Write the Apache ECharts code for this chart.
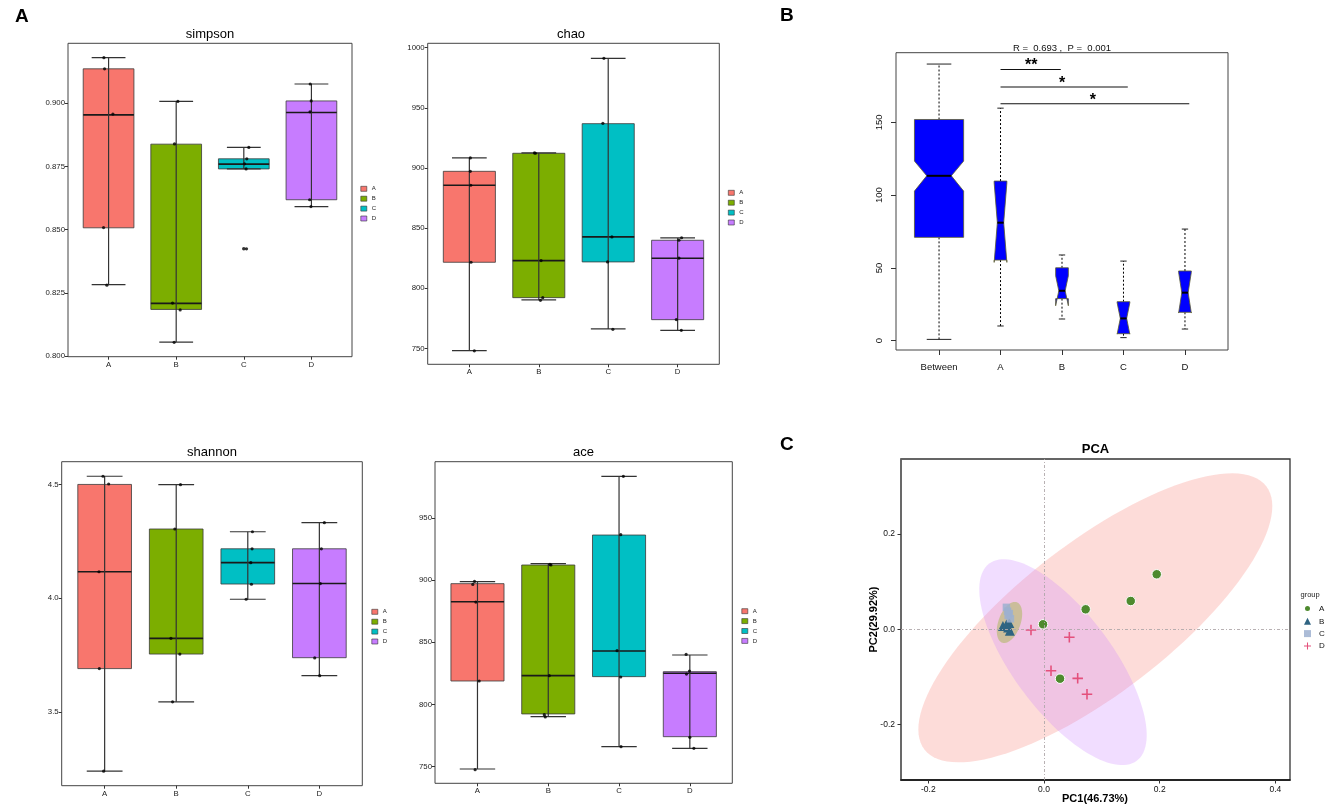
<!DOCTYPE html>
<html><head><meta charset="utf-8">
<script src="https://cdn.jsdelivr.net/npm/echarts@6/dist/echarts.min.js"></script>
<style>html,body{margin:0;padding:0;background:#fff}#c{width:1325px;height:809px}</style>
</head><body><div id="c"></div>
<script>
// ---------------- DATA ----------------
const groups = ['A', 'B', 'C', 'D'];
const groupColors = ['#F8766D', '#7CAE00', '#00BFC4', '#C77CFF'];

// box stats per group: [lowerWhisker, Q1, median, Q3, upperWhisker]
const simpsonBox = [
  [0.8282, 0.8507, 0.8954, 0.9136, 0.9180],
  [0.8055, 0.8184, 0.8208, 0.8838, 0.9007],
  [0.8740, 0.8740, 0.8759, 0.8780, 0.8825],
  [0.8591, 0.8618, 0.8963, 0.9009, 0.9076]
];
// jittered samples: [groupIndex, jitter, value]
const simpsonPoints = [
  [0, -0.069, 0.9180], [0, -0.059, 0.9136], [0, 0.064, 0.8957], [0, -0.074, 0.8508], [0, -0.025, 0.8280],
  [1, 0.025, 0.9007], [1, -0.025, 0.8839], [1, -0.054, 0.8209], [1, 0.059, 0.8182], [1, -0.030, 0.8054],
  [2, 0.074, 0.8825], [2, 0.044, 0.8780], [2, 0.010, 0.8760], [2, 0.034, 0.8740], [2, 0.040, 0.8424],
  [3, -0.018, 0.9076], [3, -0.003, 0.9009], [3, -0.020, 0.8966], [3, -0.026, 0.8618], [3, -0.007, 0.8591]
];
const simpsonOutliers = [[2, 0.8424]];
const simpsonTicks = [0.800, 0.825, 0.850, 0.875, 0.900];

const chaoBox = [
  [748.2, 821.6, 885.6, 897.2, 908.3],
  [790.3, 792.2, 823.0, 912.2, 912.5],
  [766.2, 821.9, 842.7, 936.8, 991.1],
  [765.0, 773.9, 824.9, 839.9, 841.8]
];
const chaoPoints = [
  [0, 0.014, 908.3], [0, 0.014, 897.2], [0, 0.020, 885.6], [0, 0.024, 821.6], [0, 0.072, 748.0],
  [1, -0.062, 912.5], [1, -0.048, 912.2], [1, 0.033, 823.0], [1, 0.057, 792.2], [1, 0.024, 790.0],
  [2, -0.062, 991.1], [2, -0.077, 937.1], [2, 0.053, 842.7], [2, -0.010, 821.9], [2, 0.067, 765.9],
  [3, 0.057, 842.0], [3, 0.019, 840.0], [3, 0.019, 825.0], [3, -0.019, 774.0], [3, 0.053, 765.0]
];
const chaoOutliers = [];
const chaoTicks = [750, 800, 850, 900, 950, 1000];

const shannonBox = [
  [3.240, 3.691, 4.117, 4.501, 4.537],
  [3.545, 3.755, 3.824, 4.305, 4.500],
  [3.996, 4.063, 4.157, 4.218, 4.293],
  [3.660, 3.739, 4.065, 4.218, 4.333]
];
const shannonPoints = [
  [0, -0.023, 4.537], [0, 0.056, 4.503], [0, -0.079, 4.117], [0, -0.074, 3.691], [0, -0.014, 3.240],
  [1, 0.060, 4.500], [1, -0.019, 4.305], [1, -0.074, 3.824], [1, 0.051, 3.755], [1, -0.051, 3.545],
  [2, 0.065, 4.293], [2, 0.060, 4.218], [2, 0.042, 4.157], [2, 0.051, 4.062], [2, -0.023, 3.996],
  [3, 0.070, 4.333], [3, 0.028, 4.218], [3, 0.014, 4.065], [3, -0.065, 3.738], [3, 0.005, 3.660]
];
const shannonOutliers = [];
const shannonTicks = [3.5, 4.0, 4.5];

const aceBox = [
  [748.1, 818.9, 882.7, 897.2, 898.8],
  [790.2, 792.4, 823.2, 912.2, 913.3],
  [766.1, 822.4, 843.0, 936.3, 983.5],
  [764.7, 774.1, 825.1, 826.4, 839.8]
];
const acePoints = [
  [0, -0.042, 899.0], [0, -0.066, 896.6], [0, -0.023, 882.4], [0, 0.024, 818.9], [0, -0.033, 747.6],
  [1, 0.024, 912.7], [1, 0.038, 912.2], [1, 0.014, 823.2], [1, -0.056, 791.8], [1, -0.042, 790.0],
  [2, 0.061, 983.5], [2, 0.024, 936.6], [2, -0.028, 843.3], [2, 0.024, 822.1], [2, 0.028, 766.1],
  [3, -0.052, 840.3], [3, -0.005, 826.9], [3, -0.047, 824.5], [3, 0.000, 773.6], [3, 0.057, 764.7]
];
const aceOutliers = [];
const aceTicks = [750, 800, 850, 900, 950];

// ANOSIM rank distances
const anosimGroups = ['Between', 'A', 'B', 'C', 'D'];
const anosimN = [150, 10, 10, 10, 10];
// [lowerWhisker, Q1, notchLow, median, notchHigh, Q3, upperWhisker]
const anosimStats = [
  [0.9, 71.0, 102.8, 113.3, 123.4, 152.0, 190.1],
  [10.1, 55.4, 53.8, 81.1, 108.4, 109.7, 159.8],
  [14.9, 28.9, 24.0, 34.3, 44.6, 50.1, 58.9],
  [2.1, 4.8, 4.5, 15.3, 26.1, 26.8, 54.7],
  [8.0, 19.5, 19.0, 33.0, 47.0, 47.9, 76.7]
];
const anosimTicks = [0, 50, 100, 150];
const anosimTitle = 'R =  0.693 ,  P =  0.001';
// significance brackets: [fromGroup, toGroup, height]
const sigBars = [[2.00, 2.98, 186.4], [2.00, 4.07, 174.3], [2.00, 5.07, 162.8]];
const sigLabels = ['**', '*', '*'];

// PCA
const pcaA = [[0.1948, 0.1154], [0.1499, 0.0594], [0.0720, 0.0419], [-0.0017, 0.0105], [0.0277, -0.1036]];
const pcaB = [[-0.071, 0.007], [-0.059, -0.003], [-0.060, 0.013], [-0.065, 0.010], [-0.062, 0.004]];
const pcaC = [[-0.065, 0.046], [-0.063, 0.038], [-0.062, 0.029], [-0.058, 0.022], [-0.060, 0.033]];
const pcaD = [[-0.0225, -0.0015], [0.0438, -0.0168], [0.0121, -0.0868], [0.0582, -0.1029], [0.0743, -0.1364]];
// confidence ellipses: [centerX, centerY, axis1X, axis1Y, axis2X, axis2Y]
const pcaEllipses = [
  [0.0887, 0.0241, 0.2954, 0.2761, -0.0795, 0.1253],
  [0.0328, -0.0690, 0.1275, -0.2068, 0.0685, 0.0622],
  [-0.0597, 0.0143, 0.0127, 0.0424, -0.0179, 0.0079]
];
const pcaEllipseGroups = [0, 3, 1];
const pcaXTicks = [-0.2, 0.0, 0.2, 0.4];
const pcaYTicks = [-0.2, 0.0, 0.2];
const pcaPointColors = ['#4E8A2E', '#2F6482', '#9DB0D0', '#E4507C'];

// ---------------- LAYOUT / STYLE ----------------
const FONT = 'Liberation Sans, Arial, Helvetica, sans-serif';
const chart = echarts.init(document.getElementById('c'), null, {renderer: 'canvas'});

const metrics = [
  {key: 'simpson', box: simpsonBox, pts: simpsonPoints, out: simpsonOutliers, ticks: simpsonTicks, dig: 3,
   grid: {left: 68, top: 43.3, width: 284, height: 313.4}, y: [0.7997, 0.9237],
   title: [210, 28.3], legend: [360.5, 185.8]},
  {key: 'chao', box: chaoBox, pts: chaoPoints, out: chaoOutliers, ticks: chaoTicks, dig: 0,
   grid: {left: 427.7, top: 43.3, width: 291.6, height: 321}, y: [736.8, 1003.6],
   title: [571, 28.3], legend: [728, 189.8]},
  {key: 'shannon', box: shannonBox, pts: shannonPoints, out: shannonOutliers, ticks: shannonTicks, dig: 1,
   grid: {left: 61.7, top: 461.7, width: 300.6, height: 324}, y: [3.176, 4.601],
   title: [212, 446.3], legend: [371.5, 608.8]},
  {key: 'ace', box: aceBox, pts: acePoints, out: aceOutliers, ticks: aceTicks, dig: 0,
   grid: {left: 435, top: 461.7, width: 297.3, height: 321.6}, y: [736.6, 995.3],
   title: [583.5, 446.3], legend: [741.5, 608.2]}
];

function ggBoxRender(params, api) {
  const x = api.value(0);
  const md = api.value(3);
  const L = api.coord([x - 0.375, md])[0], R = api.coord([x + 0.375, md])[0];
  const cx = api.coord([x, md])[0];
  const cl = api.coord([x - 0.25, md])[0], cr = api.coord([x + 0.25, md])[0];
  const Y = i => api.coord([x, api.value(i)])[1];
  const yLo = Y(1), yQ1 = Y(2), yMd = Y(3), yQ3 = Y(4), yHi = Y(5);
  const color = api.visual('color');
  const ln = '#333333';
  return {type: 'group', children: [
    {type: 'rect', shape: {x: L, y: yQ3, width: R - L, height: yQ1 - yQ3}, style: {fill: color, stroke: '#3a3a3a', lineWidth: 0.8}},
    {type: 'line', shape: {x1: L, y1: yMd, x2: R, y2: yMd}, style: {stroke: '#1a1a1a', lineWidth: 1.6}},
    {type: 'line', shape: {x1: cx, y1: yHi, x2: cx, y2: yLo}, style: {stroke: ln, lineWidth: 1.2}},
    {type: 'line', shape: {x1: cl, y1: yHi, x2: cr, y2: yHi}, style: {stroke: ln, lineWidth: 1.2}},
    {type: 'line', shape: {x1: cl, y1: yLo, x2: cr, y2: yLo}, style: {stroke: ln, lineWidth: 1.2}}
  ]};
}

function notchRender(params, api) {
  const x = api.value(0);
  const v = i => api.value(i);
  const lo = v(1), q1 = v(2), cLo = v(3), md = v(4), cHi = v(5), q3 = v(6), hi = v(7), w = v(8);
  const P = (dx, y) => api.coord([x + dx, y]);
  const poly = [P(-w, q1), P(w, q1), P(w, cLo), P(w / 2, md), P(w, cHi), P(w, q3), P(-w, q3), P(-w, cHi), P(-w / 2, md), P(-w, cLo)];
  const c = P(0, md)[0];
  const sw = w * 0.5;
  return {type: 'group', children: [
    {type: 'line', shape: {x1: c, y1: P(0, q3)[1], x2: c, y2: P(0, hi)[1]}, style: {stroke: '#000', lineWidth: 1, lineDash: [2, 2]}},
    {type: 'line', shape: {x1: c, y1: P(0, q1)[1], x2: c, y2: P(0, lo)[1]}, style: {stroke: '#000', lineWidth: 1, lineDash: [2, 2]}},
    {type: 'line', shape: {x1: P(-sw, hi)[0], y1: P(0, hi)[1], x2: P(sw, hi)[0], y2: P(0, hi)[1]}, style: {stroke: '#222', lineWidth: 1}},
    {type: 'line', shape: {x1: P(-sw, lo)[0], y1: P(0, lo)[1], x2: P(sw, lo)[0], y2: P(0, lo)[1]}, style: {stroke: '#222', lineWidth: 1}},
    {type: 'polygon', shape: {points: poly}, style: {fill: '#0000FF', stroke: '#5a5a30', lineWidth: 0.8}},
    {type: 'line', shape: {x1: P(-w / 2, md)[0], y1: P(0, md)[1], x2: P(w / 2, md)[0], y2: P(0, md)[1]}, style: {stroke: '#000', lineWidth: 2}}
  ]};
}

function sigRender(params, api) {
  const a = api.coord([api.value(0), api.value(2)]);
  const b = api.coord([api.value(1), api.value(2)]);
  const midX = (api.coord([api.value(0), 0])[0] + api.coord([Math.round(api.value(1)), 0])[0]) / 2;
  return {type: 'group', children: [
    {type: 'line', shape: {x1: a[0], y1: a[1], x2: b[0], y2: b[1]}, style: {stroke: '#111', lineWidth: 1.1}},
    {type: 'text', x: midX, y: a[1] - 3.5, style: {text: sigLabels[params.dataIndex], fill: '#000', font: 'bold 16px ' + FONT, textAlign: 'center', textVerticalAlign: 'middle'}}
  ]};
}

function ellipseRender(params, api) {
  const cx = api.value(0), cy = api.value(1), ux = api.value(2), uy = api.value(3), vx = api.value(4), vy = api.value(5);
  const pts = [];
  for (let k = 0; k < 120; k++) {
    const t = k / 120 * Math.PI * 2;
    pts.push(api.coord([cx + ux * Math.cos(t) + vx * Math.sin(t), cy + uy * Math.cos(t) + vy * Math.sin(t)]));
  }
  return {type: 'polygon', shape: {points: pts}, style: {fill: api.visual('color'), opacity: params.dataIndex === 2 ? 0.32 : 0.26}};
}

const grids = [], xAxes = [], yAxes = [], series = [], legends = [];
const axisLabelStyle = {fontSize: 7.8, color: '#222', fontFamily: FONT};

metrics.forEach((m, i) => {
  grids.push(Object.assign({show: true, borderColor: '#444', borderWidth: 1, backgroundColor: 'transparent'}, m.grid));
  xAxes.push({type: 'value', gridIndex: i, min: 0.4, max: 4.6, splitLine: {show: false}, axisLine: {show: false, onZero: false},
    axisTick: {customValues: [1, 2, 3, 4], length: 3, lineStyle: {color: '#333'}},
    axisLabel: Object.assign({customValues: [1, 2, 3, 4], margin: 4, formatter: v => groups[Math.round(v) - 1]}, axisLabelStyle)});
  yAxes.push({type: 'value', gridIndex: i, min: m.y[0], max: m.y[1], splitLine: {show: false}, axisLine: {show: false, onZero: false},
    axisTick: {customValues: m.ticks, length: 3, lineStyle: {color: '#333'}},
    axisLabel: Object.assign({customValues: m.ticks, margin: 3, formatter: v => v.toFixed(m.dig)}, axisLabelStyle)});
  groups.forEach((g, gi) => {
    series.push({type: 'custom', name: m.key + ':' + g, xAxisIndex: i, yAxisIndex: i, z: 2,
      itemStyle: {color: groupColors[gi]}, renderItem: ggBoxRender, silent: true,
      encode: {x: 0, y: [1, 2, 3, 4, 5]}, data: [[gi + 1].concat(m.box[gi])]});
  });
  series.push({type: 'scatter', name: m.key + '-pts', xAxisIndex: i, yAxisIndex: i, z: 4, silent: true,
    symbolSize: 3.2, itemStyle: {color: '#000'}, data: m.pts.map(p => [p[0] + 1 + p[1], p[2]])});
  if (m.out.length) series.push({type: 'scatter', name: m.key + '-out', xAxisIndex: i, yAxisIndex: i, z: 4, silent: true,
    symbolSize: 3.6, itemStyle: {color: '#000'}, data: m.out.map(p => [p[0] + 1, p[1]])});
  legends.push({orient: 'vertical', left: m.legend[0], top: m.legend[1], padding: 0, itemWidth: 6, itemHeight: 5, itemGap: 3.9,
    selectedMode: false, data: groups.map(g => ({name: m.key + ':' + g, icon: 'rect'})),
    formatter: n => n.split(':')[1], itemStyle: {borderColor: '#333', borderWidth: 0.6},
    textStyle: {fontSize: 6, lineHeight: 5, color: '#222', fontFamily: FONT}});
});

// ANOSIM panel (grid 4)
grids.push({show: true, borderColor: '#444', borderWidth: 1, left: 896, top: 52.7, width: 332, height: 297.3});
xAxes.push({type: 'value', gridIndex: 4, min: 0.3, max: 5.7, splitLine: {show: false}, axisLine: {show: false, onZero: false},
  axisTick: {customValues: [1, 2, 3, 4, 5], length: 5, lineStyle: {color: '#333'}},
  axisLabel: {customValues: [1, 2, 3, 4, 5], margin: 12, formatter: v => anosimGroups[Math.round(v) - 1], fontSize: 9.5, color: '#111', fontFamily: FONT}});
yAxes.push({type: 'value', gridIndex: 4, min: -6.4, max: 197.9, splitLine: {show: false}, axisLine: {show: false, onZero: false},
  axisTick: {customValues: anosimTicks, length: 5, lineStyle: {color: '#333'}},
  axisLabel: {customValues: anosimTicks, margin: 12, rotate: 90, fontSize: 9.5, color: '#111', fontFamily: FONT}});
const maxN = Math.max.apply(null, anosimN);
series.push({type: 'custom', name: 'anosim', xAxisIndex: 4, yAxisIndex: 4, z: 2, silent: true, renderItem: notchRender,
  encode: {x: 0, y: [1, 7]},
  data: anosimStats.map((s, i) => [i + 1].concat(s).concat([0.4 * Math.sqrt(anosimN[i] / maxN)]))});
series.push({type: 'custom', name: 'sig', xAxisIndex: 4, yAxisIndex: 4, z: 3, silent: true, renderItem: sigRender,
  encode: {x: [0, 1], y: 2}, data: sigBars});

// PCA panel (grid 5)
grids.push({show: true, borderColor: '#333', borderWidth: 1.3, left: 901, top: 459, width: 389, height: 321});
const pcaLabel = {fontSize: 8.5, color: '#111', fontFamily: FONT};
xAxes.push({type: 'value', gridIndex: 5, min: -0.2472, max: 0.4252, splitLine: {show: false},
  axisLine: {show: true, onZero: false, lineStyle: {color: '#111', width: 1.6}},
  axisTick: {customValues: pcaXTicks, length: 3.5, lineStyle: {color: '#333'}},
  axisLabel: Object.assign({customValues: pcaXTicks, margin: 5, formatter: v => v.toFixed(1)}, pcaLabel)});
yAxes.push({type: 'value', gridIndex: 5, min: -0.3161, max: 0.3572, splitLine: {show: false},
  axisLine: {show: true, onZero: false, lineStyle: {color: '#666', width: 1.6}},
  axisTick: {customValues: pcaYTicks, length: 3.5, lineStyle: {color: '#333'}},
  axisLabel: Object.assign({customValues: pcaYTicks, margin: 6, formatter: v => v.toFixed(1)}, pcaLabel)});
series.push({type: 'custom', name: 'ellipses', xAxisIndex: 5, yAxisIndex: 5, z: 1, silent: true, renderItem: ellipseRender,
  encode: {x: 0, y: 1},
  data: pcaEllipses.map((e, i) => ({value: e, itemStyle: {color: groupColors[pcaEllipseGroups[i]]}}))});
series.push({type: 'line', name: 'zero', xAxisIndex: 5, yAxisIndex: 5, z: 2, data: [], silent: true,
  markLine: {silent: true, symbol: ['none', 'none'], label: {show: false}, animation: false,
    lineStyle: {color: '#b0a8aa', width: 0.9, type: [3, 2, 1, 2]}, data: [{xAxis: 0}, {yAxis: 0}]}});
const plusPath = 'path://M8.5,0H11.5V8.5H20V11.5H11.5V20H8.5V11.5H0V8.5H8.5Z';
const pcaSets = [pcaA, pcaB, pcaC, pcaD];
const pcaSymbols = ['circle', 'triangle', 'rect', plusPath];
const pcaSizes = [9.5, 10, 7.5, 10.5];
pcaSets.forEach((d, i) => {
  series.push({type: 'scatter', name: groups[i], xAxisIndex: 5, yAxisIndex: 5, z: 3, silent: true,
    symbol: pcaSymbols[i], symbolSize: pcaSizes[i],
    itemStyle: {color: pcaPointColors[i], opacity: i === 2 ? 0.85 : 1,
      borderColor: i === 0 ? '#fff' : 'transparent', borderWidth: i === 0 ? 1 : 0},
    data: d});
});
legends.push({orient: 'vertical', left: 1303, top: 604, padding: 0, itemWidth: 7, itemHeight: 7, itemGap: 4.3,
  selectedMode: false, data: groups.slice(),
  textStyle: {fontSize: 8, lineHeight: 7, color: '#111', fontFamily: FONT, padding: [0, 0, 0, 3]}});

const titleBase = {padding: 0, textStyle: {fontFamily: FONT, color: '#000'}};
const titles = [
  {text: 'A', left: 15, top: 7, textStyle: {fontSize: 19, fontWeight: 'bold'}},
  {text: 'B', left: 780, top: 6, textStyle: {fontSize: 19, fontWeight: 'bold'}},
  {text: 'C', left: 780, top: 435, textStyle: {fontSize: 19, fontWeight: 'bold'}},
  {text: anosimTitle, left: 1062, top: 43, textAlign: 'center', textStyle: {fontSize: 9.5, fontWeight: 'normal', color: '#111'}},
  {text: 'PCA', left: 1095.5, top: 443, textAlign: 'center', textStyle: {fontSize: 13, fontWeight: 'bold'}},
  {text: 'PC1(46.73%)', left: 1095, top: 793, textAlign: 'center', textStyle: {fontSize: 11, fontWeight: 'bold'}},
  {text: 'group', left: 1300.5, top: 591, textStyle: {fontSize: 7.5, fontWeight: 'normal', color: '#222'}}
].concat(metrics.map(m => ({text: m.key, left: m.title[0], top: m.title[1], textAlign: 'center', textStyle: {fontSize: 13, fontWeight: 'normal'}})))
 .map(t => Object.assign({}, titleBase, t, {textStyle: Object.assign({}, titleBase.textStyle, t.textStyle)}));

chart.setOption({
  animation: false,
  textStyle: {fontFamily: FONT},
  title: titles,
  grid: grids,
  xAxis: xAxes,
  yAxis: yAxes,
  legend: legends,
  graphic: [{type: 'text', x: 874, y: 619.5, rotation: Math.PI / 2,
    style: {text: 'PC2(29.92%)', font: 'bold 11px ' + FONT, fill: '#000', textAlign: 'center', textVerticalAlign: 'middle'}}],
  series: series
});
</script></body></html>
